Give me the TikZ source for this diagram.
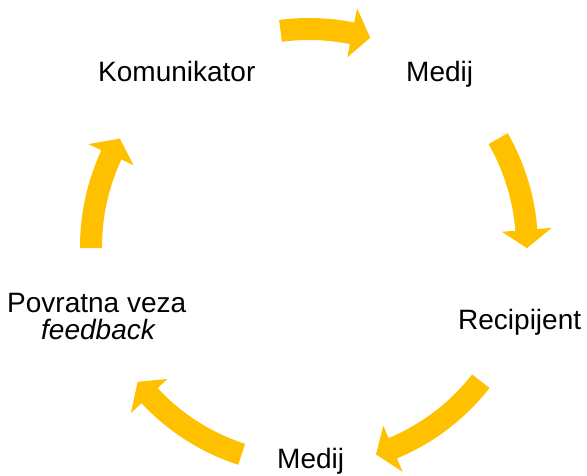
\documentclass[tikz,border=0pt]{standalone}
\usepackage{fontspec}
\setmainfont{Liberation Sans}
\definecolor{gold}{HTML}{FFC000}
\tikzset{
  arr/.style={fill=gold, draw=none},
  lbl/.style={inner sep=0pt, anchor=base west, font=\fontsize{28}{33}\selectfont}
}
\newcommand{\cyclearrow}[3]{%
  \fill[arr] (#1:229pt) arc[start angle=#1, end angle=#2, radius=229pt]
    -- (#2:243.5pt) -- (#3:218pt) -- (#2:193.5pt) -- (#2:207pt)
    arc[start angle=#2, end angle=#1, radius=207pt] -- cycle;}
\begin{document}
\begin{tikzpicture}[x=1pt,y=1pt]
\useasboundingbox (-309,-229) rectangle (278,247);
\node[lbl] (kom) at (-211,165.3) {Komunikator};
\node[lbl] (med1) at (97,165.3) {Medij};
\node[lbl] (rec) at (149,-82.3) {Recipijent};
\node[lbl] (med2) at (-32,-221.3) {Medij};
\node[lbl] (pov) at (-302,-65.7) {Povratna veza};
\node[lbl] (fb) at (-268,-93) {\itshape feedback};
\cyclearrow{97.5}{78.6}{73.7}
\cyclearrow{29.8}{4.5}{-0.3}
\cyclearrow{-38}{-67.4}{-72.1}
\cyclearrow{-108}{-137}{-141.8}
\cyclearrow{180.3}{155}{150.2}
\end{tikzpicture}
\end{document}
